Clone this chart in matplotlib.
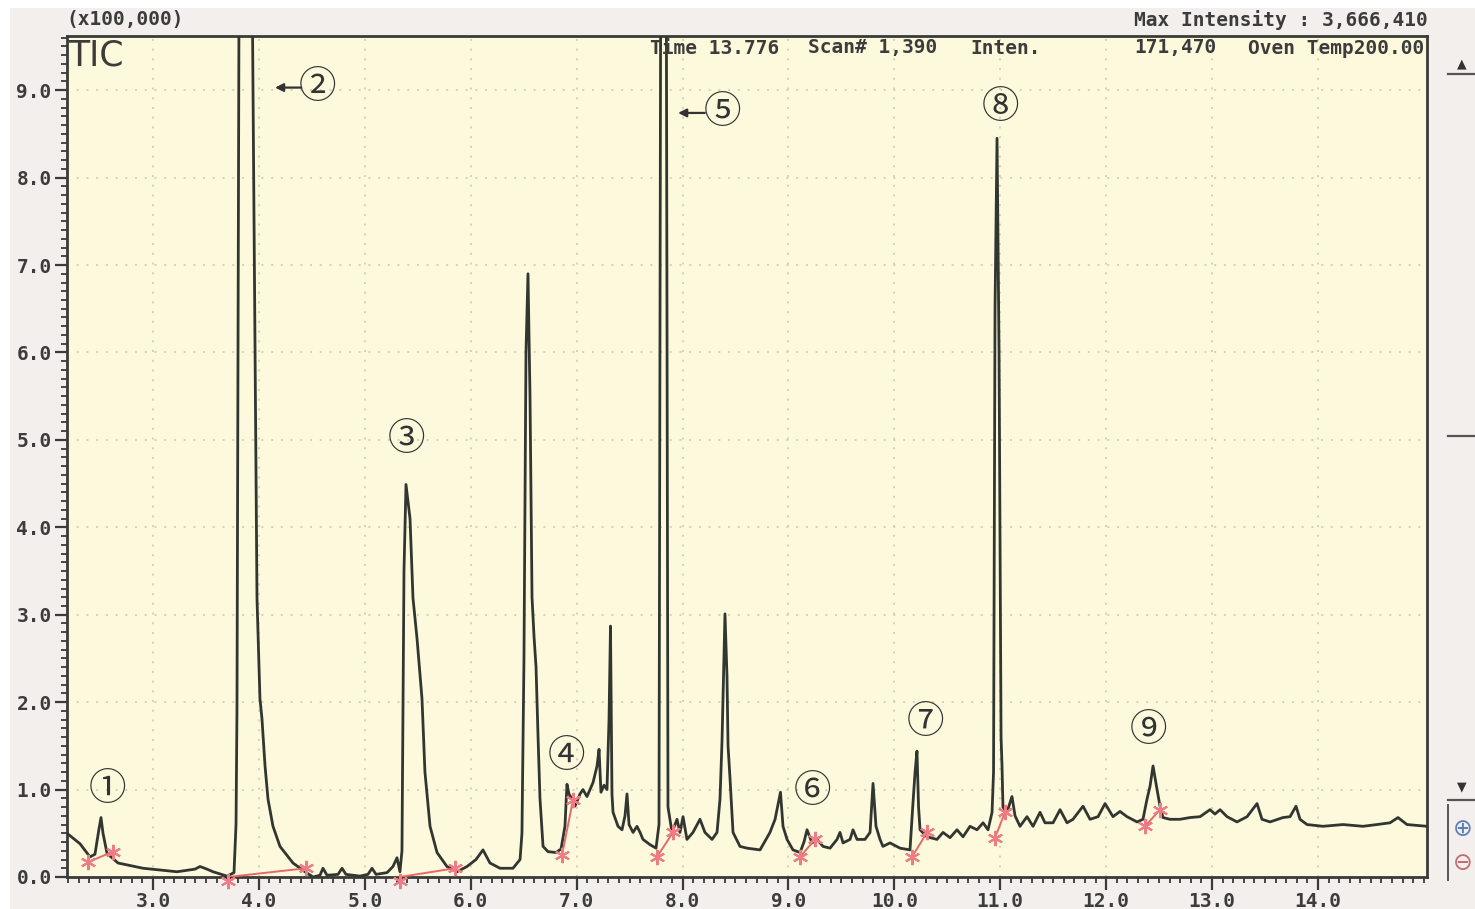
import matplotlib
matplotlib.use("Agg")
import matplotlib.pyplot as plt
from matplotlib.lines import Line2D
from matplotlib.patches import Rectangle
from matplotlib.ticker import MultipleLocator, FixedLocator, FormatStrFormatter

# TIC trace: retention time (min) vs intensity (x100,000)
rt = [2.178, 2.311, 2.405, 2.452, 2.490, 2.509, 2.528, 2.566, 2.670, 2.906,
      3.227, 3.397, 3.444, 3.510, 3.567, 3.699, 3.765, 3.784, 3.793, 3.817,
      3.869, 3.925, 3.982, 4.010, 4.029, 4.058, 4.086, 4.133, 4.199, 4.322,
      4.435, 4.511, 4.577, 4.605, 4.643, 4.747, 4.785, 4.822, 4.955, 5.030,
      5.068, 5.106, 5.210, 5.266, 5.304, 5.332, 5.351, 5.370, 5.389, 5.408,
      5.427, 5.455, 5.493, 5.540, 5.568, 5.616, 5.682, 5.776, 5.871, 5.965,
      6.050, 6.116, 6.182, 6.277, 6.399, 6.466, 6.484, 6.503, 6.522, 6.541,
      6.560, 6.579, 6.598, 6.617, 6.636, 6.654, 6.683, 6.730, 6.805, 6.853,
      6.890, 6.909, 6.928, 6.957, 6.985, 7.032, 7.060, 7.098, 7.127, 7.155,
      7.193, 7.212, 7.230, 7.259, 7.287, 7.306, 7.320, 7.334, 7.344, 7.391,
      7.429, 7.457, 7.476, 7.495, 7.533, 7.570, 7.599, 7.627, 7.693, 7.750,
      7.778, 7.797, 7.821, 7.844, 7.863, 7.901, 7.948, 7.976, 8.005, 8.042,
      8.099, 8.165, 8.212, 8.279, 8.326, 8.354, 8.373, 8.401, 8.420, 8.430,
      8.449, 8.477, 8.543, 8.609, 8.732, 8.826, 8.874, 8.925, 8.949, 8.987,
      9.043, 9.110, 9.147, 9.176, 9.223, 9.270, 9.327, 9.393, 9.459, 9.487,
      9.516, 9.582, 9.610, 9.648, 9.723, 9.771, 9.799, 9.827, 9.865, 9.893,
      9.959, 10.054, 10.148, 10.177, 10.196, 10.214, 10.229, 10.243, 10.309, 10.403,
      10.460, 10.526, 10.592, 10.649, 10.715, 10.781, 10.838, 10.885, 10.923, 10.937,
      10.951, 10.970, 10.989, 11.008, 11.017, 11.026, 11.064, 11.111, 11.140, 11.187,
      11.253, 11.310, 11.376, 11.423, 11.499, 11.565, 11.631, 11.687, 11.782, 11.848,
      11.924, 11.990, 12.065, 12.131, 12.197, 12.292, 12.348, 12.386, 12.415, 12.443,
      12.481, 12.509, 12.537, 12.603, 12.698, 12.792, 12.887, 12.981, 13.028, 13.076,
      13.142, 13.236, 13.331, 13.425, 13.472, 13.548, 13.670, 13.737, 13.793, 13.831,
      13.897, 14.048, 14.237, 14.426, 14.558, 14.681, 14.756, 14.841, 15.030]
inten = [0.51, 0.38, 0.23, 0.26, 0.55, 0.68, 0.50, 0.27, 0.16, 0.10,
         0.06, 0.09, 0.12, 0.09, 0.06, 0.01, 0.05, 0.60, 1.90, 12.0,
         36.66, 12.0, 3.19, 2.04, 1.81, 1.27, 0.89, 0.58, 0.35, 0.16,
         0.06, 0.00, 0.02, 0.10, 0.02, 0.03, 0.10, 0.03, 0.01, 0.03,
         0.10, 0.03, 0.05, 0.12, 0.22, 0.06, 0.30, 3.50, 4.49, 4.30,
         4.10, 3.19, 2.73, 2.04, 1.20, 0.58, 0.28, 0.12, 0.06, 0.12,
         0.20, 0.31, 0.16, 0.10, 0.10, 0.20, 0.50, 2.50, 6.00, 6.90,
         5.50, 3.20, 2.75, 2.40, 1.60, 0.90, 0.35, 0.29, 0.28, 0.32,
         0.58, 1.06, 0.95, 0.89, 0.81, 0.95, 1.00, 0.92, 1.00, 1.08,
         1.27, 1.46, 0.97, 1.05, 1.00, 1.80, 2.87, 0.95, 0.74, 0.58,
         0.54, 0.70, 0.95, 0.60, 0.51, 0.58, 0.51, 0.43, 0.37, 0.33,
         0.60, 12.0, 16.0, 12.0, 0.80, 0.51, 0.66, 0.51, 0.69, 0.43,
         0.51, 0.66, 0.51, 0.43, 0.51, 0.89, 1.55, 3.01, 2.30, 1.50,
         1.12, 0.51, 0.35, 0.33, 0.31, 0.51, 0.66, 0.97, 0.58, 0.43,
         0.31, 0.28, 0.40, 0.54, 0.39, 0.43, 0.35, 0.33, 0.43, 0.51,
         0.39, 0.43, 0.54, 0.43, 0.43, 0.51, 1.07, 0.58, 0.43, 0.35,
         0.39, 0.33, 0.31, 0.86, 1.20, 1.44, 0.80, 0.54, 0.46, 0.43,
         0.51, 0.45, 0.54, 0.46, 0.58, 0.54, 0.62, 0.54, 0.74, 1.20,
         6.50, 8.45, 6.00, 1.60, 1.27, 0.80, 0.74, 0.92, 0.70, 0.58,
         0.69, 0.58, 0.74, 0.62, 0.62, 0.77, 0.62, 0.66, 0.81, 0.66,
         0.69, 0.84, 0.69, 0.75, 0.69, 0.63, 0.66, 0.89, 1.04, 1.27,
         1.00, 0.81, 0.68, 0.66, 0.66, 0.68, 0.69, 0.77, 0.72, 0.77,
         0.69, 0.63, 0.69, 0.84, 0.66, 0.63, 0.68, 0.69, 0.81, 0.66,
         0.60, 0.58, 0.60, 0.58, 0.60, 0.62, 0.68, 0.60, 0.58]

# integration start / end marks for each numbered peak
start_rt = [2.386, 3.708, 5.332, 6.862, 7.759, 9.110, 10.167, 10.951, 12.367]
start_y = [0.17, -0.05, -0.05, 0.25, 0.23, 0.23, 0.23, 0.45, 0.58]
end_rt = [2.622, 4.445, 5.852, 6.966, 7.910, 9.251, 10.309, 11.045, 12.509]
end_y = [0.29, 0.10, 0.10, 0.88, 0.51, 0.43, 0.51, 0.74, 0.77]

# peak numbers
peak_labels = ["①", "②", "③", "④", "⑤", "⑥", "⑦", "⑧", "⑨"]
label_rt = [2.566, 4.558, 5.398, 6.909, 8.373, 9.223, 10.290, 10.998, 12.396]
label_y = [1.00, 9.03, 5.00, 1.38, 8.74, 0.98, 1.77, 8.80, 1.68]

x_ticks = [3, 4, 5, 6, 7, 8, 9, 10, 11, 12, 13, 14]

W, H = 1475, 909
plt.rcParams["font.family"] = ["DejaVu Sans Mono"]
plt.rcParams["font.weight"] = "bold"

ink = "#3a3b38"


def fx(px):
    return px / W


def fy(py):
    return 1 - py / H


fig = plt.figure(figsize=(W / 100, H / 100), dpi=100, facecolor="white")
fig.patches.append(Rectangle((fx(10), 0), 1 - fx(10), fy(8), transform=fig.transFigure,
                             facecolor="#f2efec", edgecolor="none", zorder=-10))

ax = fig.add_axes([fx(67), fy(877), fx(1427) - fx(67), fy(36) - fy(877)])
ax.set_facecolor("#fcf9dc")
ax.set_xlim(2.188, 15.03)
ax.set_ylim(0, 9.62)

ax.xaxis.set_major_locator(FixedLocator(x_ticks))
ax.xaxis.set_minor_locator(MultipleLocator(0.1))
ax.yaxis.set_major_locator(MultipleLocator(1))
ax.yaxis.set_minor_locator(MultipleLocator(0.1))
ax.xaxis.set_major_formatter(FormatStrFormatter("%.1f"))
ax.yaxis.set_major_formatter(FormatStrFormatter("%.1f"))
ax.tick_params(which="major", length=9, width=1.6, color=ink, labelsize=14,
               labelcolor="#3c3c3c", pad=2)
ax.tick_params(which="minor", length=4, width=1.3, color=ink)
ax.grid(which="major", color="#d6d1ae", linestyle=(0, (1, 4)), linewidth=1.4)
ax.set_axisbelow(True)
for s in ax.spines.values():
    s.set_color(ink)
    s.set_linewidth(2)

# chromatogram
ax.plot(rt, inten, color="#323631", lw=2.0, solid_joinstyle="round", zorder=3)

# integration baselines and start/end marks
for a, b, c, d in zip(start_rt, start_y, end_rt, end_y):
    ax.plot([a, c], [max(b, 0), max(d, 0)], color="#e46a6a", lw=1.4, zorder=4)
ax.plot(start_rt + end_rt, start_y + end_y, ls="none", marker=(6, 2, 0), ms=11,
        mew=1.5, color="#ee7c84", clip_on=False, zorder=5)

# peak numbers
for lbl, t, y in zip(peak_labels, label_rt, label_y):
    ax.text(t, y, lbl, ha="center", va="center", fontsize=27, fontweight="normal",
            family=["Noto Sans CJK JP", "DejaVu Sans"], color="#333333", zorder=6)
for tip, tail, y in [(4.152, 4.40, 9.03), (7.958, 8.21, 8.74)]:
    ax.annotate("", xy=(tip, y), xytext=(tail, y),
                arrowprops=dict(arrowstyle="-|>", color="#333333", lw=1.6,
                                mutation_scale=12, shrinkA=0, shrinkB=0))

# header texts
txt = dict(fontsize=14, color="#3c3c3c", va="center")
fig.text(fx(66), fy(20), "(x100,000)", ha="left", **txt)
fig.text(fx(1428), fy(20), "Max Intensity : 3,666,410", ha="right", **txt)
fig.text(fx(650), fy(48), "Time 13.776", ha="left", **txt)
fig.text(fx(808), fy(48), "Scan# 1,390", ha="left", **txt)
fig.text(fx(970), fy(48), "Inten.", ha="left", **txt)
fig.text(fx(1217), fy(48), "171,470", ha="right", **txt)
fig.text(fx(1424), fy(48), "Oven Temp200.00", ha="right", **txt)
fig.text(fx(68), fy(55), "TIC", ha="left", va="center", fontsize=25,
         fontweight="normal", family=["Liberation Sans Narrow", "DejaVu Sans"],
         color="#3c3c3c")

# side scroll bar
sb = "#555555"
fig.text(fx(1462), fy(64), "▲", ha="center", va="center", fontsize=9,
         family=["DejaVu Sans"], color="#333333")
fig.text(fx(1462), fy(787), "▼", ha="center", va="center", fontsize=9,
         family=["DejaVu Sans"], color="#333333")
for yy in (74, 436, 800):
    fig.add_artist(Line2D([fx(1448), 1], [fy(yy), fy(yy)], color=sb, lw=1.6))
fig.add_artist(Line2D([fx(1448), fx(1448)], [fy(805), fy(880)], color=sb, lw=1.4))
fig.text(fx(1463), fy(829), "⊕", ha="center", va="center", fontsize=17,
         family=["DejaVu Sans"], fontweight="normal", color="#5a7fb8")
fig.text(fx(1463), fy(863), "⊖", ha="center", va="center", fontsize=17,
         family=["DejaVu Sans"], fontweight="normal", color="#c46a72")

fig.savefig("out.png", dpi=100, facecolor=fig.get_facecolor())
